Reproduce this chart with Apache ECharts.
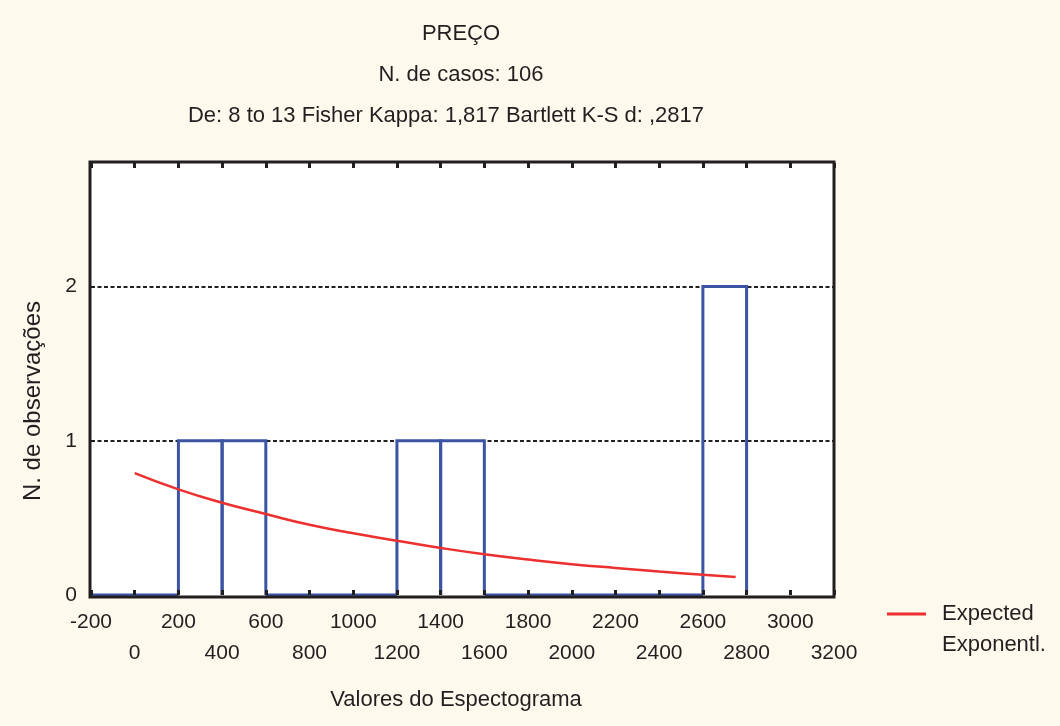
<!DOCTYPE html>
<html>
<head>
<meta charset="utf-8">
<script src="https://cdn.jsdelivr.net/npm/echarts@6/dist/echarts.min.js"></script>
<style>
  html, body { margin: 0; padding: 0; background: #fdf9ed; }
  #chart { width: 1060px; height: 726px; }
</style>
</head>
<body>
<div id="chart"></div>
<script>
// histogram bins (start of each 200-wide bin) and counts
const binStarts = [-200, 0, 200, 400, 600, 800, 1000, 1200, 1400, 1600, 1800, 2000, 2200, 2400, 2600];
const binWidth = 200;
const binCounts = [0, 0, 1, 1, 0, 0, 0, 1, 1, 0, 0, 0, 0, 0, 2];

// expected exponential curve
const expX = [0, 200, 400, 600, 800, 1000, 1200, 1400, 1600, 1800, 2000, 2200, 2400, 2600, 2750];
const expY = [0.79, 0.685, 0.598, 0.525, 0.455, 0.40, 0.352, 0.305, 0.264, 0.23, 0.20, 0.175, 0.152, 0.132, 0.117];

const titleLines = ['PREÇO', 'N. de casos: 106', 'De: 8 to 13 Fisher Kappa: 1,817 Bartlett K-S d: ,2817'];
const titleCenters = [461, 461, 446];
const xName = 'Valores do Espectograma';
const yName = 'N. de observações';
const legendLines = ['Expected', 'Exponentl.'];

const font = '"Liberation Sans", Arial, sans-serif';
const ink = '#231f20';
const blue = '#3b54a4';
const red = '#ec2f2f';

const chart = echarts.init(document.getElementById('chart'));

const binData = binStarts.map((s, i) => [s, s + binWidth, binCounts[i]]);
const isUpperRow = v => (v + 200) % 400 === 0;

const bottomAxis = (upper) => ({
  type: 'value', min: -200, max: 3200, interval: 200, position: 'bottom', z: 5,
  offset: upper ? 0 : 31,
  axisLine: { show: false },
  axisTick: { show: upper, inside: true, length: 5, lineStyle: { color: ink, width: 3 } },
  splitLine: { show: false },
  axisLabel: {
    margin: 17, color: ink, fontFamily: font, fontSize: 21,
    showMinLabel: true, showMaxLabel: true, hideOverlap: false,
    formatter: v => (isUpperRow(v) === upper ? String(v) : '')
  }
});

chart.setOption({
  backgroundColor: '#fdf9ed',
  animation: false,
  grid: { left: 91, right: 226, top: 163, bottom: 131, show: true, backgroundColor: '#ffffff', borderWidth: 0 },
  xAxis: [
    bottomAxis(true),
    bottomAxis(false),
    {
      type: 'value', min: -200, max: 3200, interval: 200, position: 'top', z: 5,
      axisLine: { show: false },
      axisTick: { show: true, inside: true, length: 5, lineStyle: { color: ink, width: 3 } },
      splitLine: { show: false },
      axisLabel: { show: false }
    }
  ],
  yAxis: {
    type: 'value', min: 0, max: 2.8, interval: 1,
    axisLine: { show: false },
    axisTick: { show: false },
    splitLine: { show: true, showMinLine: false, showMaxLine: false, lineStyle: { color: ink, width: 2, type: [4, 2.5] } },
    axisLabel: {
      margin: 14, color: ink, fontFamily: font, fontSize: 21,
      formatter: v => (v % 1 === 0 ? String(v) : '')
    }
  },
  series: [
    {
      type: 'custom',
      data: binData,
      z: 3,
      renderItem: (params, api) => {
        const x0 = api.value(0), x1 = api.value(1), h = api.value(2);
        const pts = h > 0
          ? [api.coord([x0, 0]), api.coord([x0, h]), api.coord([x1, h]), api.coord([x1, 0])]
          : [api.coord([x0, 0]), api.coord([x1, 0])];
        return {
          type: 'polyline',
          shape: { points: pts },
          style: { fill: null, stroke: blue, lineWidth: 3 }
        };
      }
    },
    {
      type: 'line',
      data: expX.map((x, i) => [x, expY[i]]),
      smooth: true,
      showSymbol: false,
      z: 4,
      lineStyle: { color: red, width: 2.5 }
    }
  ],
  graphic: [
    { type: 'rect', z: 100, shape: { x: 90, y: 162, width: 744, height: 435 },
      style: { fill: null, stroke: ink, lineWidth: 3 } },
    ...titleLines.map((t, i) => ({
      type: 'text', x: titleCenters[i], y: 34 + i * 41,
      style: { text: t, fill: ink, font: '22px ' + font, textAlign: 'center', textVerticalAlign: 'middle' }
    })),
    { type: 'text', x: 456, y: 700,
      style: { text: xName, fill: ink, font: '22px ' + font, textAlign: 'center', textVerticalAlign: 'middle' } },
    { type: 'text', x: 33, y: 401, rotation: Math.PI / 2,
      style: { text: yName, fill: ink, font: '24px ' + font, textAlign: 'center', textVerticalAlign: 'middle' } },
    { type: 'line', shape: { x1: 887, y1: 614, x2: 926, y2: 614 }, style: { stroke: red, lineWidth: 3 } },
    ...legendLines.map((t, i) => ({
      type: 'text', x: 942, y: 614 + i * 31,
      style: { text: t, fill: ink, font: '22px ' + font, textAlign: 'left', textVerticalAlign: 'middle' }
    }))
  ]
});
</script>
</body>
</html>
